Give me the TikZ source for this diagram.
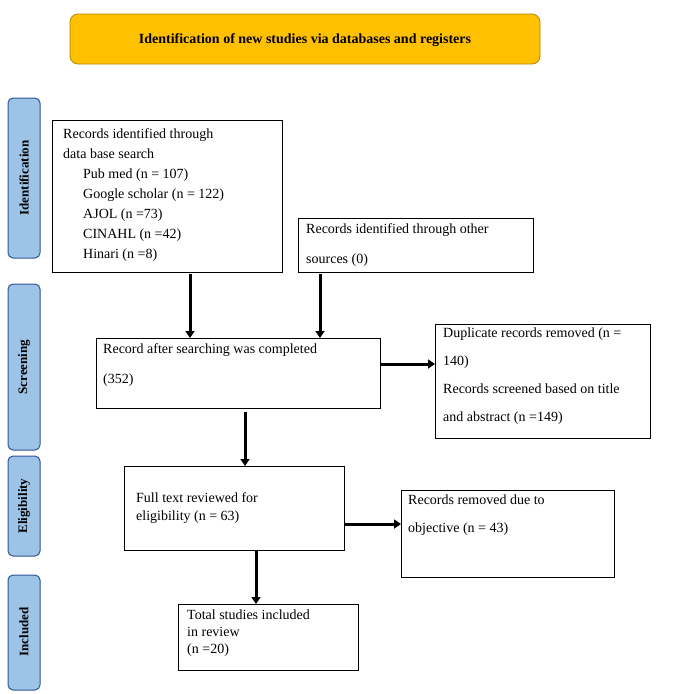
\documentclass[tikz,border=0pt]{standalone}
\usepackage{fontspec}
\setmainfont{Liberation Serif}
\usetikzlibrary{arrows.meta}
\definecolor{banner}{HTML}{FFC000}
\definecolor{side}{HTML}{9DC3E6}
\definecolor{sideb}{HTML}{2F5597}
\begin{document}
\begin{tikzpicture}[x=1pt,y=-1pt,
 box/.style={draw=black,line width=0.8pt},
 txt/.style={anchor=north west,align=left,font=\fontsize{14}{20}\selectfont,inner sep=0pt},
 sidebox/.style={draw=sideb,fill=side,rounded corners=5pt,line width=1pt},
 sidetxt/.style={rotate=90,font=\bfseries\fontsize{13}{15}\selectfont},
 arr/.style={line width=3pt,-{Triangle[length=7pt,width=9pt]}}]
\useasboundingbox (0,0) rectangle (685,694);
\draw[draw=banner!70!black,fill=banner,rounded corners=8pt,line width=0.8pt] (70,14) rectangle (540,64);
\node[font=\bfseries\fontsize{14}{16}\selectfont] (ban) at (305,40) {Identification of new studies via databases and registers};
\draw[sidebox] (8,98) rectangle (40,258); \node[sidetxt] (s1) at (24,178) {Identification};
\draw[sidebox] (8,284) rectangle (40,450); \node[sidetxt] (s2) at (24,367) {Screening};
\draw[sidebox] (8,456) rectangle (40,556); \node[sidetxt] (s3) at (24,506) {Eligibility};
\draw[sidebox] (8,575) rectangle (40,690); \node[sidetxt] (s4) at (24,632) {Included};
\draw[box] (52,120) rectangle (282,272);
\node[txt] (t1) at (63,128) {Records identified through\\data base search\\\hspace{20pt}Pub med (n = 107)\\\hspace{20pt}Google scholar (n = 122)\\\hspace{20pt}AJOL (n =73)\\\hspace{20pt}CINAHL (n =42)\\\hspace{20pt}Hinari (n =8)};
\draw[box] (298,218) rectangle (533,272);
\node[txt,font=\fontsize{14}{30}\selectfont] (t2) at (306,223) {Records identified through other\\sources (0)};
\draw[box] (96,338) rectangle (380,408);
\node[txt,font=\fontsize{14}{30}\selectfont] (t3) at (103,343) {Record after searching was completed\\(352)};
\draw[box] (435,324) rectangle (650,438);
\node[txt,font=\fontsize{14}{28}\selectfont] (t4) at (443,328) {Duplicate records removed (n =\\140)\\Records screened based on title\\and abstract (n =149)};
\draw[box] (124,466) rectangle (344,550);
\node[txt,font=\fontsize{14}{18}\selectfont] (t5) at (136,492) {Full text reviewed for\\eligibility (n = 63)};
\draw[box] (401,490) rectangle (614,577);
\node[txt,font=\fontsize{14}{28}\selectfont] (t6) at (408,495) {Records removed due to\\objective (n = 43)};
\draw[box] (178,604) rectangle (358,670);
\node[txt,font=\fontsize{14}{17}\selectfont] (t7) at (187,610) {Total studies included\\in review\\(n =20)};
\coordinate (a1) at (190,274); \coordinate (b1) at (190,338);
\coordinate (a2) at (320,274); \coordinate (b2) at (320,338);
\coordinate (a3) at (380,364); \coordinate (b3) at (435,364);
\coordinate (a4) at (245,412); \coordinate (b4) at (245,466);
\coordinate (a5) at (344,524); \coordinate (b5) at (401,524);
\coordinate (a6) at (256,550); \coordinate (b6) at (256,604);
\foreach \i in {1,...,6} \draw[arr] (a\i) -- (b\i);
\end{tikzpicture}
\end{document}
